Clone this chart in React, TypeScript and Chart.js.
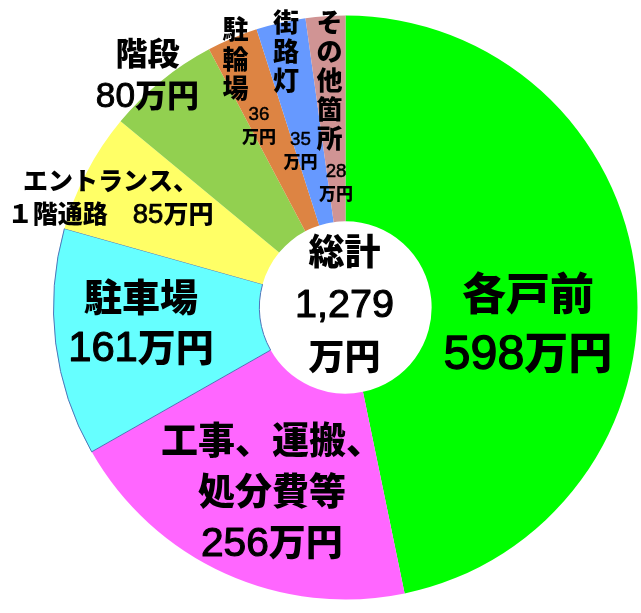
import React, { useEffect, useRef } from 'react';
import { Chart, registerables } from 'chart.js';

Chart.register(...registerables);

// 費用内訳（万円）
const categories = ['各戸前', '工事、運搬、処分費等', '駐車場', 'エントランス、１階通路', '階段', '駐輪場', '街路灯', 'その他箇所'];
const values = [598, 256, 161, 85, 80, 36, 35, 28];
const colors = ['#00ff00', '#ff66ff', '#66ffff', '#ffff66', '#92d050', '#dd8443', '#6699ff', '#d09494'];
const borderWidths = [0, 0, 1, 0, 0, 0, 0, 0];
const unit = '万円';
const totalTitle = '総計';

const total = values.reduce((s, v) => s + v, 0);

interface Block {
    lines: string[];
    size: number;
    lh: number;
    dx?: number;
    dy?: number;
}

// label anchor: a = fraction of the slice's angle, r = fraction of outer radius
const labelLayout: { a: number; r: number; blocks: (n: string, v: number) => Block[] }[] = [
    { a: 0.5635, r: 0.627, blocks: (n, v) => [{ lines: [n, `${v}${unit}`], size: 44, lh: 59 }] },
    { a: 0.466, r: 0.676, blocks: (n, v) => [{ lines: [n.slice(0, 6), n.slice(6), `${v}${unit}`], size: 37, lh: 51 }] },
    { a: 0.567, r: 0.702, blocks: (n, v) => [{ lines: [n, `${v}${unit}`], size: 38, lh: 50 }] },
    { a: 0.397, r: 0.889, blocks: (n, v) => [{ lines: [n.slice(0, 7), `${n.slice(7)}　${v}${unit}`], size: 25, lh: 33 }] },
    { a: 0.45, r: 1.05, blocks: (n, v) => [{ lines: [n, `${v}${unit}`], size: 32, lh: 42 }] },
    {
        a: 0.393, r: 0.931, blocks: (n, v) => [
            { lines: [...n], size: 26, lh: 29.5 },
            { lines: [`${v}`, unit], size: 17, lh: 23, dx: 23.5, dy: 66 },
        ],
    },
    {
        a: 0.472, r: 0.9, blocks: (n, v) => [
            { lines: [...n], size: 26, lh: 29 },
            { lines: [`${v}`, unit], size: 17, lh: 23, dx: 14.5, dy: 98.5 },
        ],
    },
    {
        a: 0.489, r: 0.779, blocks: (n, v) => [
            { lines: [...n], size: 26, lh: 29 },
            { lines: [`${v}`, unit], size: 17, lh: 23, dx: 6.5, dy: 101.5 },
        ],
    },
];

const drawLine = (ctx: CanvasRenderingContext2D, text: string, cx: number, cy: number, size: number) => {
    const runs = text.match(/[0-9,]+|[^0-9,]+/g) || [];
    const isNum = (r: string) => /[0-9,]/.test(r[0]);
    const fontFor = (r: string) =>
        isNum(r)
            ? `normal ${size * 1.1}px "Liberation Sans", Arial, sans-serif`
            : `900 ${size}px "Noto Sans CJK JP", sans-serif`;
    const widths = runs.map((r) => {
        ctx.font = fontFor(r);
        return ctx.measureText(r).width;
    });
    let x = cx - widths.reduce((s, w) => s + w, 0) / 2;
    ctx.textAlign = 'left';
    ctx.textBaseline = 'alphabetic';
    runs.forEach((r, i) => {
        ctx.font = fontFor(r);
        ctx.fillText(r, x, cy + size * 0.38);
        if (isNum(r)) {
            // digits in the original are a touch heavier than regular
            ctx.lineWidth = size * 0.03;
            ctx.strokeText(r, x, cy + size * 0.38);
        }
        x += widths[i];
    });
};

const drawBlock = (ctx: CanvasRenderingContext2D, b: Block, ax: number, ay: number) => {
    const n = b.lines.length;
    b.lines.forEach((line, i) => {
        drawLine(ctx, line, ax, ay + (i - (n - 1) / 2) * b.lh, b.size);
    });
};

const labelPlugin = {
    id: 'sliceLabels',
    afterDatasetsDraw(chart: Chart) {
        const ctx = chart.ctx;
        const meta = chart.getDatasetMeta(0);
        ctx.save();
        ctx.fillStyle = '#000000';
        ctx.strokeStyle = '#000000';
        ctx.lineJoin = 'round';
        meta.data.forEach((el: any, i: number) => {
            const lay = labelLayout[i];
            const { x, y, startAngle, endAngle, outerRadius } = el.getProps(
                ['x', 'y', 'startAngle', 'endAngle', 'outerRadius'],
                true
            );
            const ang = startAngle + (endAngle - startAngle) * lay.a;
            const ax = x + Math.cos(ang) * outerRadius * lay.r;
            const ay = y + Math.sin(ang) * outerRadius * lay.r;
            lay.blocks(categories[i], values[i]).forEach((b) => drawBlock(ctx, b, ax + (b.dx || 0), ay + (b.dy || 0)));
        });
        const c: any = meta.data[0];
        drawBlock(ctx, { lines: [totalTitle, total.toLocaleString('en-US'), unit], size: 36, lh: 52.5 }, c.x - 1, c.y - 4);
        ctx.restore();
    },
};

const CostPie: React.FC = () => {
    const chartRef = useRef<HTMLCanvasElement>(null);

    useEffect(() => {
        let chartInstance: Chart | undefined;
        if (chartRef.current) {
            chartInstance = new Chart(chartRef.current, {
                type: 'doughnut',
                data: {
                    labels: categories,
                    datasets: [{
                        data: values,
                        backgroundColor: colors,
                        borderColor: '#4f73b8',
                        borderWidth: borderWidths,
                    }],
                },
                options: {
                    responsive: false,
                    maintainAspectRatio: false,
                    animation: false,
                    cutout: '29.5%',
                    layout: { padding: { left: 53, right: 3, top: 15, bottom: 13 } },
                    plugins: {
                        legend: { display: false },
                        tooltip: { enabled: false },
                    },
                },
                plugins: [labelPlugin],
            });
        }
        return () => {
            if (chartInstance) {
                chartInstance.destroy();
            }
        };
    }, []);

    return <canvas ref={chartRef} width={641} height={613}></canvas>;
};

const App: React.FC = () => (
    <div style={{ position: 'absolute', left: 0, top: 0, width: 641, height: 613, background: '#fff' }}>
        <CostPie />
    </div>
);

export default App;
